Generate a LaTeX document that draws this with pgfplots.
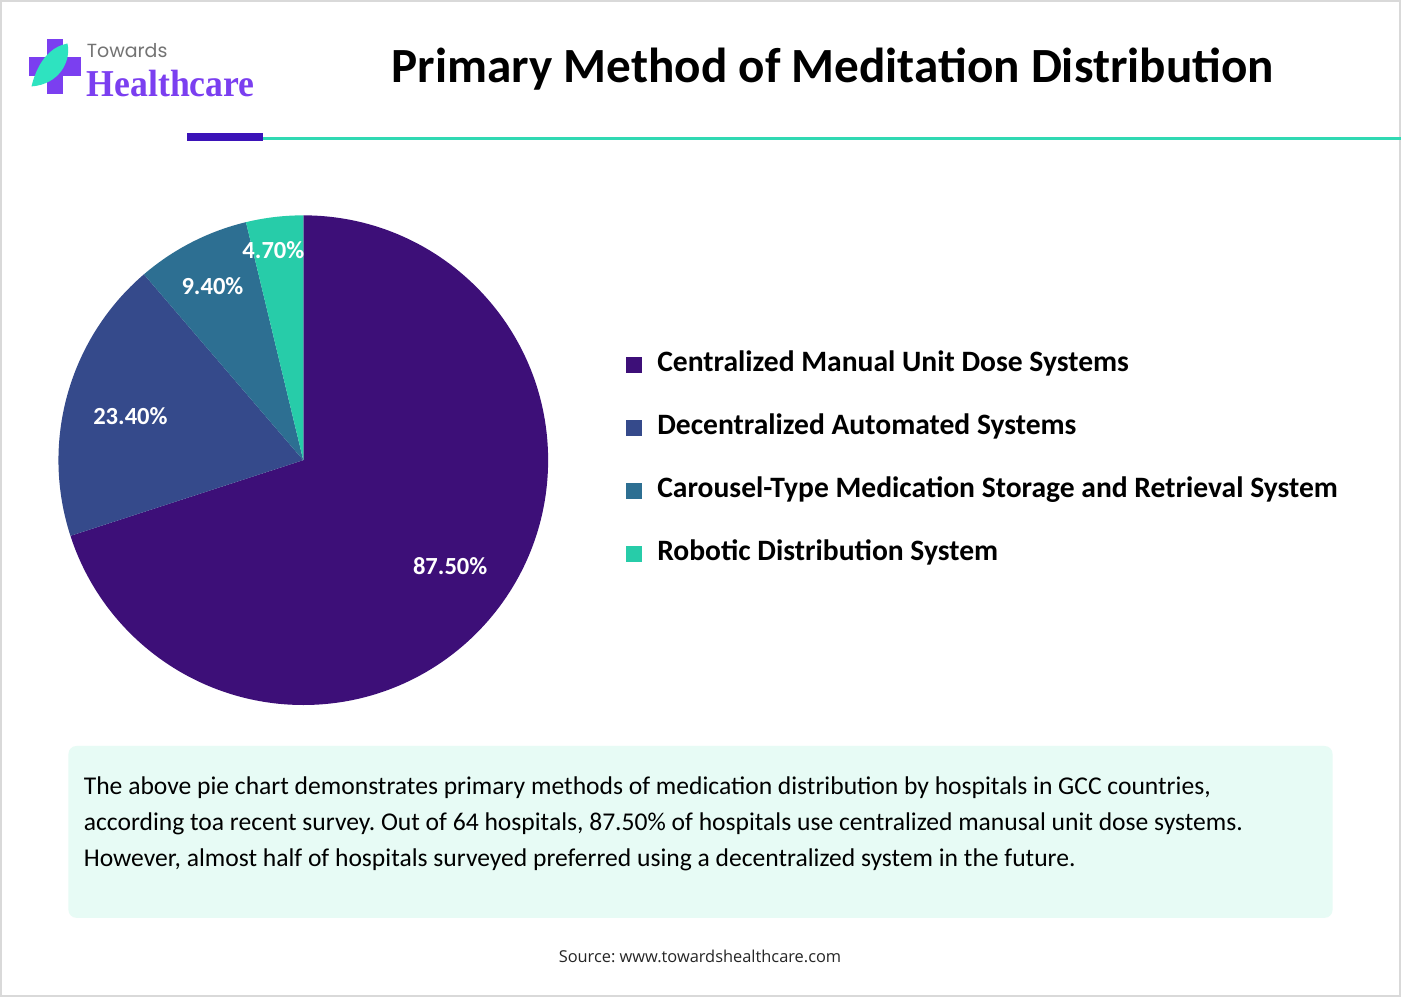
\documentclass[border=0pt]{standalone}
\usepackage{pgfplots}
\pgfplotsset{compat=1.18}
\usepackage{fontspec}
\setmainfont{Carlito}
\newfontfamily\opensans{Open Sans}
\newfontfamily\poppins{Poppins}
\newfontfamily\libserif{Liberation Serif}
\definecolor{cA}{HTML}{3D0F78}
\definecolor{cB}{HTML}{354A8B}
\definecolor{cC}{HTML}{2D6F92}
\definecolor{cD}{HTML}{27CCA9}
\definecolor{logoP}{HTML}{7B3FF0}
\definecolor{logoT}{HTML}{2EE3C0}
\definecolor{barP}{HTML}{3B13B8}
\definecolor{lineT}{HTML}{30D9B3}
\definecolor{boxF}{HTML}{E7FBF5}
\frenchspacing
\begin{document}
\begin{tikzpicture}[x=0.5pt,y=0.5pt]
\def\vA{87.5}\def\vB{23.4}\def\vC{9.4}\def\vD{4.7}
\pgfmathsetmacro\tot{\vA+\vB+\vC+\vD}
\pgfmathsetmacro\aA{90}
\pgfmathsetmacro\aB{\aA-360*(\vA/\tot)}
\pgfmathsetmacro\aC{\aB-360*(\vB/\tot)}
\pgfmathsetmacro\aD{\aC-360*(\vC/\tot)}
\pgfmathsetmacro\aE{\aD-360*(\vD/\tot)}
% background and frame
\fill[white] (0,0) rectangle (1401,997);
\draw[black!15, line width=1pt] (0.5,0.5) rectangle (1400.5,996.5);
% logo
\fill[logoP] (47,997-39) rectangle (63,997-94);
\fill[logoP] (29,997-57) rectangle (81,997-76);
\fill[logoT] (31,997-86) .. controls (38,997-58) and (52,997-46) .. (67,997-43)
  .. controls (71,997-62) and (58,997-84) .. cycle;
\node[anchor=base west, inner sep=0pt, text=black!55, font=\poppins\fontsize{9.5}{11}\selectfont] at (86,997-57) {Towards};
\node[anchor=base west, inner sep=0pt, text=logoP, xscale=0.94, font=\libserif\bfseries\fontsize{19}{21}\selectfont] at (86,997-96) {Healthcare};
% header rules
\fill[barP] (187,997-133) rectangle (263,997-141);
\fill[lineT] (263,997-136.5) rectangle (1401,997-139.5);
% title
\node[anchor=base, inner sep=0pt, font=\bfseries\fontsize{24.6}{28}\selectfont] at (833,997-82) {Primary Method of Meditation Distribution};
% pie
\coordinate (pc) at (303,997-460);
\begin{axis}[at={(pc)}, anchor=center, width=245pt, height=245pt, scale only axis,
  xmin=-1, xmax=1, ymin=-1, ymax=1, hide axis, clip=false,
  legend style={at={(1.145,0.731)}, anchor=north west, draw=none, fill=none,
    font=\bfseries\fontsize{14.8}{17}\selectfont, row sep=18.6pt,
    nodes={inner sep=0pt, text height=10pt, text depth=3pt},
    /tikz/every odd column/.append style={column sep=8pt}},
  legend cell align=left,
  legend image code/.code={\fill[#1] (0pt,-3.75pt) rectangle (7.5pt,3.75pt);}]
\fill[cA] (axis cs:0,0) -- (axis cs:{cos(\aA)},{sin(\aA)}) arc[start angle=\aA, end angle=\aB, radius=122.5pt] -- cycle;
\fill[cB] (axis cs:0,0) -- (axis cs:{cos(\aB)},{sin(\aB)}) arc[start angle=\aB, end angle=\aC, radius=122.5pt] -- cycle;
\fill[cC] (axis cs:0,0) -- (axis cs:{cos(\aC)},{sin(\aC)}) arc[start angle=\aC, end angle=\aD, radius=122.5pt] -- cycle;
\fill[cD] (axis cs:0,0) -- (axis cs:{cos(\aD)},{sin(\aD)}) arc[start angle=\aD, end angle=\aE, radius=122.5pt] -- cycle;
\addlegendimage{cA}\addlegendentry{Centralized Manual Unit Dose Systems}
\addlegendimage{cB}\addlegendentry{Decentralized Automated Systems}
\addlegendimage{cC}\addlegendentry{Carousel-Type Medication Storage and Retrieval System}
\addlegendimage{cD}\addlegendentry{Robotic Distribution System}
\node[white, font=\bfseries\fontsize{12.3}{14}\selectfont] at (axis cs:0.6,-0.433) {87.50\%};
\node[white, font=\bfseries\fontsize{12.3}{14}\selectfont] at (axis cs:-0.706,0.180) {23.40\%};
\node[white, font=\bfseries\fontsize{12.3}{14}\selectfont] at (axis cs:-0.371,0.710) {9.40\%};
\node[white, font=\bfseries\fontsize{12.3}{14}\selectfont] at (axis cs:-0.122,0.857) {4.70\%};
\end{axis}
% text box
\fill[boxF, rounded corners=4pt] (68,997-746) rectangle (1333,997-918);
\begin{scope}[every node/.style={anchor=base west, inner sep=0pt, font=\fontsize{12.8}{15}\selectfont}]
\node at (83,997-795) {The above pie chart demonstrates primary methods of medication distribution by hospitals in GCC countries,};
\node at (83,997-831) {according toa recent survey. Out of 64 hospitals, 87.50\% of hospitals use centralized manusal unit dose systems.};
\node at (83,997-867) {However, almost half of hospitals surveyed preferred using a decentralized system in the future.};
\end{scope}
% source
\node[anchor=base, inner sep=0pt, text=black!85, font=\opensans\fontsize{8.2}{10}\selectfont] at (700,997-963) {Source: www.towardshealthcare.com};
\end{tikzpicture}
\end{document}
